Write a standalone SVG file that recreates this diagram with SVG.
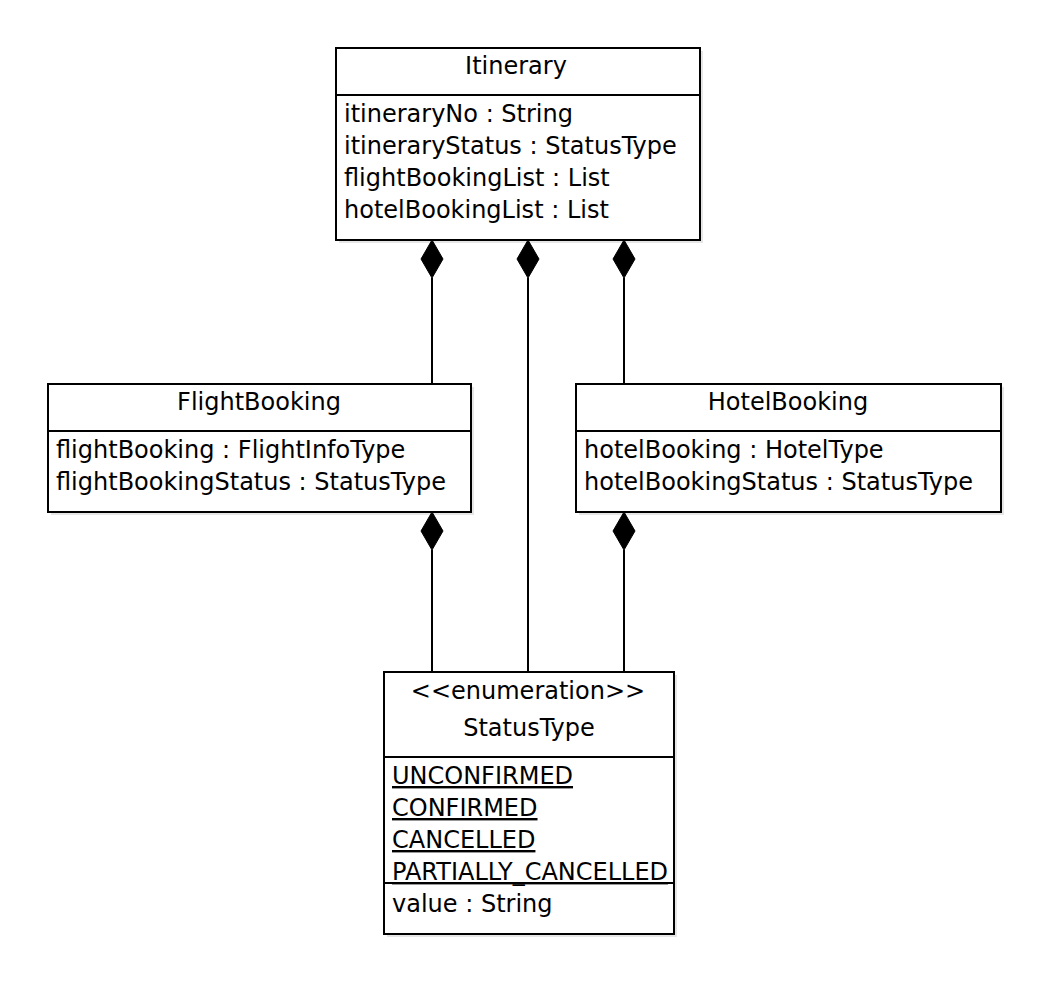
<svg xmlns="http://www.w3.org/2000/svg" width="1050" height="982" viewBox="0 0 1050 982">
<style>
.box{fill:#fff;stroke:#000;stroke-width:2}
.sh{fill:#e6e6e6}
.div{stroke:#000;stroke-width:2}
.t{font-family:"DejaVu Sans",Verdana,sans-serif;font-size:24px;fill:#000}
.c{text-anchor:middle}
.u{text-decoration:underline}
.ln{stroke:#000;stroke-width:2;fill:none}
.dm{fill:#000;stroke:#000;stroke-width:1}
</style>
<rect width="1050" height="982" fill="#fff"/>
<g id="Itinerary">
<rect class="sh" x="339" y="51" width="364" height="192"/>
<rect class="box" x="336" y="48" width="364" height="192"/>
<line class="div" x1="336" y1="95" x2="700" y2="95"/>
<text class="t c" x="516" y="74">Itinerary</text>
<text class="t" x="344" y="122">itineraryNo : String</text>
<text class="t" x="344" y="154">itineraryStatus : StatusType</text>
<text class="t" x="344" y="186">flightBookingList : List</text>
<text class="t" x="344" y="218">hotelBookingList : List</text>
</g>
<g id="FlightBooking">
<rect class="sh" x="51" y="387" width="423" height="128"/>
<rect class="box" x="48" y="384" width="423" height="128"/>
<line class="div" x1="48" y1="431" x2="471" y2="431"/>
<text class="t c" x="259" y="410">FlightBooking</text>
<text class="t" x="56" y="458">flightBooking : FlightInfoType</text>
<text class="t" x="56" y="490">flightBookingStatus : StatusType</text>
</g>
<g id="HotelBooking">
<rect class="sh" x="579" y="387" width="425" height="128"/>
<rect class="box" x="576" y="384" width="425" height="128"/>
<line class="div" x1="576" y1="431" x2="1001" y2="431"/>
<text class="t c" x="788" y="410">HotelBooking</text>
<text class="t" x="584" y="458">hotelBooking : HotelType</text>
<text class="t" x="584" y="490">hotelBookingStatus : StatusType</text>
</g>
<g id="StatusType">
<rect class="sh" x="387" y="675" width="290" height="262"/>
<rect class="box" x="384" y="672" width="290" height="262"/>
<line class="div" x1="384" y1="757" x2="674" y2="757"/>
<text class="t c" x="528" y="699">&lt;&lt;enumeration&gt;&gt;</text>
<text class="t c" x="529" y="736">StatusType</text>
<text class="t u" x="392" y="784">UNCONFIRMED</text>
<text class="t u" x="392" y="816">CONFIRMED</text>
<text class="t u" x="392" y="848">CANCELLED</text>
<text class="t u" x="392" y="880">PARTIALLY_CANCELLED</text>
<line class="div" x1="384" y1="883" x2="674" y2="883"/>
<text class="t" x="392" y="912">value : String</text>
</g>
<g id="connectors">
<line class="ln" x1="432" y1="278" x2="432" y2="384"/>
<polygon class="dm" points="432,240 443,259 432,278 421,259"/>
<line class="ln" x1="528" y1="278" x2="528" y2="672"/>
<polygon class="dm" points="528,240 539,259 528,278 517,259"/>
<line class="ln" x1="624" y1="278" x2="624" y2="384"/>
<polygon class="dm" points="624,240 635,259 624,278 613,259"/>
<line class="ln" x1="432" y1="550" x2="432" y2="672"/>
<polygon class="dm" points="432,512 443,531 432,550 421,531"/>
<line class="ln" x1="624" y1="550" x2="624" y2="672"/>
<polygon class="dm" points="624,512 635,531 624,550 613,531"/>
</g>
</svg>
